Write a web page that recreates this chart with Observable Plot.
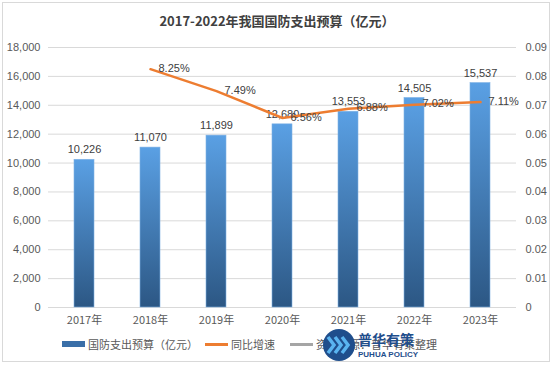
<!DOCTYPE html>
<html>
<head>
<meta charset="utf-8">
<script src="https://cdn.jsdelivr.net/npm/d3@7"></script>
<script src="https://cdn.jsdelivr.net/npm/@observablehq/plot@0.6"></script>
<style>
  html, body { margin: 0; padding: 0; background: #fff; }
  body { width: 554px; height: 366px; position: relative; overflow: hidden;
         font-family: "Noto Sans CJK SC", "Liberation Sans", sans-serif; }
  #frame { position: absolute; left: 2px; top: 2px; width: 548px; height: 360px;
           border: 1px solid #d9d9d9; box-sizing: border-box; }
  #title { position: absolute; left: 0; top: 12px; width: 554px; text-align: center;
           font-size: 13px; font-weight: bold; color: #404040; line-height: 18px; }
  #chart { position: absolute; left: 0; top: 38px; }
  #legend { position: absolute; left: 0; top: 335px; width: 554px; height: 20px;
            font-size: 11px; color: #595959; }
  .li { position: absolute; top: 0; line-height: 18px; white-space: nowrap; }
  .sw { position: absolute; }
  #logo { position: absolute; left: 322px; top: 328px; width: 120px; height: 34px; }
</style>
</head>
<body>
<div id="frame"></div>
<div id="title">2017-2022年我国国防支出预算（亿元）</div>
<div id="chart"></div>
<div id="legend"></div>
<div id="logo"></div>
<script>
const years = ["2017年", "2018年", "2019年", "2020年", "2021年", "2022年", "2023年"];
const budget = [10226, 11070, 11899, 12680, 13553, 14505, 15537];
const growth = [null, 0.0825, 0.0749, 0.0656, 0.0688, 0.0702, 0.0711];
const leftTicks = [0, 2000, 4000, 6000, 8000, 10000, 12000, 14000, 16000, 18000];
const rightTicks = [0, 0.01, 0.02, 0.03, 0.04, 0.05, 0.06, 0.07, 0.08, 0.09];
const legendLabels = ["国防支出预算（亿元）", "同比增速", "资料来源：普华有策整理"];

const rightMax = 0.09, leftMax = 18000;
const k = leftMax / rightMax;

const bars = years.map((y, i) => ({year: y, value: budget[i]}));
const lineData = years.map((y, i) => ({year: y, g: growth[i]})).filter(d => d.g != null);

const fmt = d3.format(",");
const plot = Plot.plot({
  width: 554,
  height: 295,
  marginTop: 9,
  marginBottom: 26,
  marginLeft: 48,
  marginRight: 38,
  style: {fontFamily: "'Liberation Sans', 'Noto Sans CJK SC', sans-serif", fontSize: "11px", color: "#595959", background: "transparent"},
  x: {domain: years, paddingInner: 0.7, paddingOuter: 0.35, label: null},
  y: {domain: [0, leftMax], label: null},
  marks: [
    Plot.ruleY(leftTicks, {stroke: "#d9d9d9", strokeWidth: 1}),
    Plot.barY(bars, {x: "year", y: "value", fill: "url(#barGrad)", stroke: "#7fb2e5", strokeWidth: 0.6}),
    Plot.text(bars, {x: "year", y: "value", text: d => fmt(d.value), dy: -10, fill: "#404040", fontSize: 11}),
    Plot.line(lineData, {x: "year", y: d => d.g * k, stroke: "#ed7d31", strokeWidth: 2.5}),
    Plot.text(lineData, {x: "year", y: d => d.g * k, text: d => (d.g * 100).toFixed(2) + "%", textAnchor: "start", dx: 8, dy: -1, fill: "#404040", fontSize: 11}),
    Plot.axisY(leftTicks, {anchor: "left", tickSize: 0, tickPadding: 8, tickFormat: d => fmt(d), fill: "#595959", label: null}),
    Plot.axisY(rightTicks.map(t => t * k), {anchor: "right", tickSize: 0, tickPadding: 9, tickFormat: d => String(+(d / k).toFixed(2)), fill: "#595959", label: null}),
    Plot.axisX({tickSize: 0, tickPadding: 9, fill: "#595959", label: null, fontFamily: "'Noto Sans CJK SC', sans-serif"})
  ]
});

const svg = d3.select(plot);
const defs = svg.insert("defs", ":first-child");
const grad = defs.append("linearGradient").attr("id", "barGrad").attr("x1", 0).attr("y1", 0).attr("x2", 0).attr("y2", 1);
grad.append("stop").attr("offset", "0%").attr("stop-color", "#5aa0e4");
grad.append("stop").attr("offset", "100%").attr("stop-color", "#2c5784");
document.getElementById("chart").appendChild(plot);

// legend
const legend = d3.select("#legend");
const items = [
  {x: 62, w: 23, h: 6, color: "#3a6fa8", label: legendLabels[0]},
  {x: 205, w: 23, h: 3, color: "#ed7d31", label: legendLabels[1]},
  {x: 290, w: 23, h: 3, color: "#a5a5a5", label: legendLabels[2]}
];
items.forEach(it => {
  legend.append("div").attr("class", "sw")
    .style("left", it.x + "px").style("top", (9 - it.h / 2) + "px")
    .style("width", it.w + "px").style("height", it.h + "px").style("background", it.color);
  legend.append("div").attr("class", "li").style("left", (it.x + 26) + "px").text(it.label);
});

// watermark logo
const logo = d3.select("#logo").append("svg").attr("width", 120).attr("height", 34);
logo.append("circle").attr("cx", 17).attr("cy", 17).attr("r", 16).attr("fill", "#1f4e8c");
[0, 7, 14].forEach(o => {
  logo.append("path").attr("d", `M${6 + o},9 L${12 + o},17 L${6 + o},25`).attr("fill", "none")
    .attr("stroke", "#5ab4f0").attr("stroke-width", 3.5);
});
logo.append("text").attr("x", 36).attr("y", 17).attr("font-size", 14).attr("font-weight", "bold")
  .attr("fill", "#1f4e8c").attr("font-family", "'Noto Sans CJK SC', sans-serif").text("普华有策");
logo.append("text").attr("x", 36).attr("y", 29).attr("font-size", 8).attr("font-weight", "bold")
  .attr("fill", "#1f4e8c").attr("font-family", "'Liberation Sans', sans-serif").text("PUHUA POLICY");
</script>
</body>
</html>
